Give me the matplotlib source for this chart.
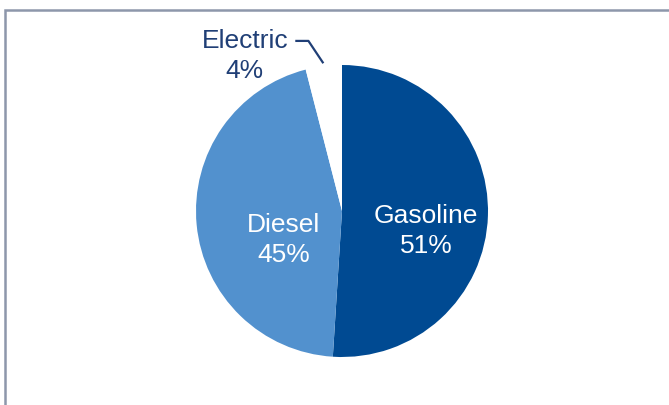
import numpy as np
import matplotlib
matplotlib.use("Agg")
import matplotlib.pyplot as plt
from matplotlib.patches import Rectangle

categories = ["Gasoline", "Diesel", "Electric"]
shares = [51, 45, 4]
labels = ["Gasoline\n51%", "Diesel\n45%", "Electric\n4%"]
colors = ["#004A92", "#5291CE", "#FFFFFF"]

W, H = 669, 406
fig = plt.figure(figsize=(W / 100, H / 100), dpi=100)
fig.patch.set_facecolor("white")

# frame (extends off the right and bottom edges)
fig.patches.append(Rectangle((5 / W, -0.1), 1.2, (H - 11) / H + 0.1,
                             transform=fig.transFigure, fill=False,
                             edgecolor="#8D97AB", linewidth=1.8))

cx, cy, r = 342, H - 212, 146
ax = fig.add_axes([(cx - r) / W, (cy - r) / H, 2 * r / W, 2 * r / H])
wedges, _ = ax.pie(shares, colors=colors, startangle=90, counterclock=False,
                   radius=1.0, wedgeprops=dict(linewidth=0))
ax.set_xlim(-1, 1)
ax.set_ylim(-1, 1)
ax.set_aspect("equal")
ax.axis("off")

font = "Liberation Sans"
fs = 19
ls = 1.3
ax.text(0.577, -0.13, labels[0], ha="center", va="center", color="white",
        fontsize=fs, family=font, linespacing=ls)
ax.text(-0.40, -0.19, labels[1], ha="center", va="center", color="white",
        fontsize=fs, family=font, linespacing=ls)
ax.text(-0.665, 1.07, labels[2], ha="center", va="center", color="#203F76",
        fontsize=fs, family=font, linespacing=ls, clip_on=False)

# leader line to the electric slice
w = wedges[2]
mid = np.deg2rad((w.theta1 + w.theta2) / 2)
ex, ey = np.cos(mid) * 1.02, np.sin(mid) * 1.02
ax.plot([-0.32, -0.23, ex], [1.165, 1.165, ey], color="#203F76", lw=1.6,
        clip_on=False, solid_capstyle="butt")

fig.savefig("out.png", dpi=100, facecolor="white")
